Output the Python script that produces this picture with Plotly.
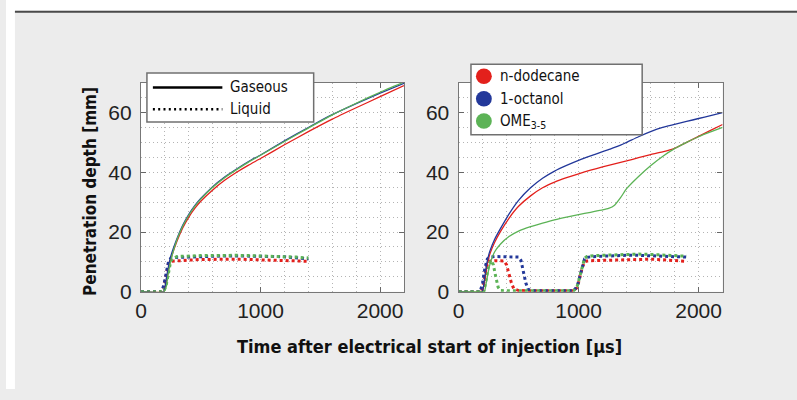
import plotly.graph_objects as go

# ---------------- data ----------------
t_gas_L = [0, 190, 210, 230, 250, 300, 350, 400, 450, 500, 600, 700, 800, 900, 1000,
           1200, 1400, 1600, 1800, 2000, 2200]
gas_L_dodecane = [0, 0, 3, 7.5, 11, 16.8, 21.4, 25.0, 27.9, 30.3, 34.1, 37.3, 40.0, 42.4, 44.6,
                  49.2, 53.6, 57.8, 61.6, 65.3, 69.0]
gas_L_octanol = [0, 0, 4, 8.5, 12, 17.7, 22.3, 25.9, 28.8, 31.2, 35.2, 38.4, 41.1, 43.6, 45.8,
                 50.5, 55.0, 59.3, 63.0, 66.5, 69.8]
gas_L_ome = [0, 0, 1.5, 6.5, 10.5, 17.3, 22.0, 25.6, 28.6, 31.0, 35.0, 38.2, 40.9, 43.4, 45.7,
             50.3, 54.8, 59.2, 63.1, 66.8, 70.2]

t_liq_L = [0, 170, 190, 210, 230, 250, 300, 400, 500, 600, 700, 800, 900, 1000,
           1100, 1200, 1300, 1400]
liq_L_dodecane = [0, 0, 1, 5, 9.5, 10.2, 10.4, 10.6, 10.8, 10.9, 10.9, 10.9, 10.8,
                  10.7, 10.6, 10.5, 10.3, 10.2]
liq_L_octanol = [0, 0, 2, 6, 10, 11.3, 11.5, 11.6, 11.8, 11.9, 12.0, 12.0, 12.0,
                 11.9, 11.8, 11.7, 11.4, 11.0]
liq_L_ome = [0, 0, 0, 2, 7, 10.5, 11.8, 12.0, 12.1, 12.1, 12.2, 12.2, 12.1, 12.0,
             11.9, 11.8, 11.6, 11.3]

t_gas_R = [0, 195, 215, 235, 260, 300, 350, 420, 500, 600, 700, 800, 900, 1000,
           1100, 1200, 1250, 1300, 1350, 1400, 1500, 1600, 1700, 1800, 1900, 2000, 2100, 2200]
gas_R_dodecane = [0, 0, 3, 8.5, 12.5, 16.5, 20.2, 24.6, 28.6, 32.1, 34.8, 36.7, 38.2, 39.5,
                  40.7, 41.8, 42.3, 42.8, 43.3, 43.8, 44.9, 45.9, 46.8, 48.0, 50.0, 52.0, 54.0, 56.0]
gas_R_octanol = [0, 0, 4, 9.5, 13.5, 17.5, 21.2, 26.0, 30.6, 34.8, 38.0, 40.4, 42.3, 44.0,
                 45.5, 46.9, 47.6, 48.3, 49.1, 50.0, 51.9, 53.6, 55.0, 56.0, 57.0, 58.0, 59.0, 60.0]
gas_R_ome = [0, 0, 0, 4, 9, 13.3, 16.0, 18.5, 20.3, 21.8, 23.0, 24.1, 25.0, 25.8,
             26.6, 27.4, 27.9, 29.0, 31.5, 34.5, 38.6, 42.2, 45.3, 47.9, 50.0, 51.9, 53.5, 55.0]

t_liq_R_dodecane = [0, 190, 210, 230, 250, 300, 380, 400, 420, 440, 460, 500, 700, 960,
                    990, 1010, 1030, 1050, 1070, 1100, 1200, 1300, 1400, 1500, 1600,
                    1700, 1800, 1900]
liq_R_dodecane = [0, 0, 3, 8, 10.2, 10.4, 10.3, 9, 6, 3, 1, 0.4, 0.3, 0.3,
                  1.5, 4.5, 8, 10, 10.3, 10.4, 10.5, 10.7, 10.8, 10.9, 10.9,
                  10.7, 10.5, 10.2]
t_liq_R_octanol = [0, 180, 200, 220, 240, 260, 300, 400, 500, 520, 540, 560, 580, 620,
                   800, 960, 990, 1010, 1030, 1050, 1070, 1100, 1200, 1300, 1400, 1500,
                   1600, 1700, 1800, 1900]
liq_R_octanol = [0, 0, 3, 8, 11, 11.6, 11.8, 11.8, 11.6, 10.5, 7, 3, 0.8, 0.3,
                 0.3, 0.3, 2, 5, 8.5, 11, 11.5, 11.7, 11.9, 12.1, 12.2, 12.2,
                 12.1, 12.0, 11.8, 11.6]
t_liq_R_ome = [0, 210, 230, 250, 270, 290, 310, 330, 350, 400, 600, 960, 990, 1010,
               1030, 1050, 1070, 1100, 1200, 1300, 1400, 1500, 1600, 1700, 1800, 1900]
liq_R_ome = [0, 0, 4, 9, 10.5, 9, 5, 1.5, 0.4, 0.3, 0.3, 0.3, 2, 5, 8.5, 11.2,
             11.8, 12.0, 12.2, 12.4, 12.5, 12.6, 12.5, 12.4, 12.1, 11.9]

fuels = ["n-dodecane", "1-octanol", "OME<sub>3-5</sub>"]
colors = ["#e3201c", "#23389a", "#5cb356"]
phases = ["Gaseous", "Liquid"]
x_title = "Time after electrical start of injection [µs]"
y_title = "Penetration depth [mm]"

W, H = 797, 400
def PX(x):
    return x / W
def PY(y):
    return 1 - y / H

fig = go.Figure()

gasL = [gas_L_dodecane, gas_L_octanol, gas_L_ome]
liqL = [liq_L_dodecane, liq_L_octanol, liq_L_ome]
gasR = [gas_R_dodecane, gas_R_octanol, gas_R_ome]
liqR = [(t_liq_R_dodecane, liq_R_dodecane), (t_liq_R_octanol, liq_R_octanol),
        (t_liq_R_ome, liq_R_ome)]

for i in range(3):
    fig.add_trace(go.Scatter(x=t_liq_L, y=liqL[i], mode="lines",
                             line=dict(color=colors[i], width=3, dash="3px,3px"),
                             xaxis="x", yaxis="y", showlegend=False))
for i in range(3):
    fig.add_trace(go.Scatter(x=t_gas_L, y=gasL[i], mode="lines",
                             line=dict(color=colors[i], width=1.3, shape="spline", smoothing=0.5),
                             xaxis="x", yaxis="y", showlegend=False))
for i in range(3):
    fig.add_trace(go.Scatter(x=liqR[i][0], y=liqR[i][1], mode="lines",
                             line=dict(color=colors[i], width=3, dash="3px,3px"),
                             xaxis="x2", yaxis="y2", showlegend=False))
for i in range(3):
    fig.add_trace(go.Scatter(x=t_gas_R, y=gasR[i], mode="lines",
                             line=dict(color=colors[i], width=1.3, shape="spline", smoothing=0.5),
                             xaxis="x2", yaxis="y2", showlegend=False))

tickfont = dict(family="Liberation Sans, Arial, sans-serif", size=21, color="#222222")
grid = dict(showgrid=True, gridcolor="#b4b4b4", gridwidth=1, griddash="1px,3px")

def xax(domain, anchor):
    return dict(domain=domain, anchor=anchor, range=[0, 2200], tick0=0, dtick=1000,
                ticks="inside", ticklen=5, tickcolor="#666", showline=True,
                linecolor="#777", linewidth=1.2, mirror="ticks", zeroline=False,
                tickfont=tickfont, **grid,
                minor=dict(dtick=200, tick0=0, ticks="", **grid))

def yax(domain, anchor):
    return dict(domain=domain, anchor=anchor, range=[0, 70], tick0=0, dtick=20,
                ticks="inside", ticklen=5, tickcolor="#666", showline=True,
                linecolor="#777", linewidth=1.2, mirror="ticks", zeroline=False,
                tickfont=tickfont, ticklabelstandoff=4, **grid,
                minor=dict(dtick=5, tick0=0, ticks="", **grid))

ydom = [PY(300), PY(85)]
fig.update_layout(
    width=W, height=H, autosize=False, margin=dict(l=0, r=0, t=0, b=0),
    paper_bgcolor="#ececec", plot_bgcolor="white",
    showlegend=False,
    xaxis=xax([PX(136), PX(401)], "y"),
    yaxis=yax(ydom, "x"),
    xaxis2=xax([PX(456), PX(722)], "y2"),
    yaxis2=yax(ydom, "x2"),
)

shapes = []
# page frame: white top band, white left strip, dark rule
shapes.append(dict(type="rect", xref="paper", yref="paper", x0=0, x1=1, y0=PY(11), y1=1,
                   fillcolor="white", line=dict(width=0)))
shapes.append(dict(type="rect", xref="paper", yref="paper", x0=0, x1=PX(9), y0=0, y1=1,
                   fillcolor="white", line=dict(width=0)))
shapes.append(dict(type="rect", xref="paper", yref="paper", x0=PX(9), x1=1, y0=PY(13), y1=PY(11),
                   fillcolor="#4a4a4a", line=dict(width=0)))
# legend boxes
shapes.append(dict(type="rect", xref="paper", yref="paper", x0=PX(142), x1=PX(310),
                   y0=PY(125.5), y1=PY(75), fillcolor="white", line=dict(color="#707070", width=1.5)))
shapes.append(dict(type="rect", xref="paper", yref="paper", x0=PX(468.5), x1=PX(641),
                   y0=PY(138.5), y1=PY(66), fillcolor="white", line=dict(color="#707070", width=1.5)))
# line-style samples
shapes.append(dict(type="line", xref="paper", yref="paper", x0=PX(148), x1=PX(218),
                   y0=PY(90), y1=PY(90), line=dict(color="black", width=2.5)))
shapes.append(dict(type="line", xref="paper", yref="paper", x0=PX(148), x1=PX(218),
                   y0=PY(112.3), y1=PY(112.3), line=dict(color="black", width=2.5, dash="2px,3.3px")))
# fuel colour markers
for i, cy in enumerate([78.5, 101.5, 124.5]):
    r = 8
    shapes.append(dict(type="circle", xref="paper", yref="paper",
                       x0=PX(481.5 - r), x1=PX(481.5 + r), y0=PY(cy + r), y1=PY(cy - r),
                       fillcolor=colors[i], line=dict(width=0)))
fig.update_layout(shapes=shapes)

legfont = dict(family="Liberation Sans Narrow, DejaVu Sans Condensed, Arial Narrow, sans-serif",
               size=15, color="#111111")
ann = []
for txt, cy in zip(phases, [89, 112]):
    ann.append(dict(text=txt, x=PX(224), y=PY(cy), xref="paper", yref="paper",
                    xanchor="left", yanchor="middle", showarrow=False, font=legfont))
for txt, cy in zip(fuels, [78, 101.5, 125]):
    ann.append(dict(text=txt, x=PX(496), y=PY(cy), xref="paper", yref="paper",
                    xanchor="left", yanchor="middle", showarrow=False, font=legfont))
titlefont = dict(family="Liberation Sans Narrow, DejaVu Sans Condensed, Arial Narrow, sans-serif",
                 size=18, color="#111111", weight="bold")
ann.append(dict(text=x_title, x=PX(427), y=PY(356), xref="paper", yref="paper",
                xanchor="center", yanchor="middle", showarrow=False, font=titlefont))
ann.append(dict(text=y_title, x=PX(84), y=PY(197), xref="paper", yref="paper",
                xanchor="center", yanchor="middle", showarrow=False, textangle=-90,
                font=dict(titlefont, size=17)))
fig.update_layout(annotations=ann)

fig.write_html("out.html", config={"responsive": False, "displayModeBar": False})
